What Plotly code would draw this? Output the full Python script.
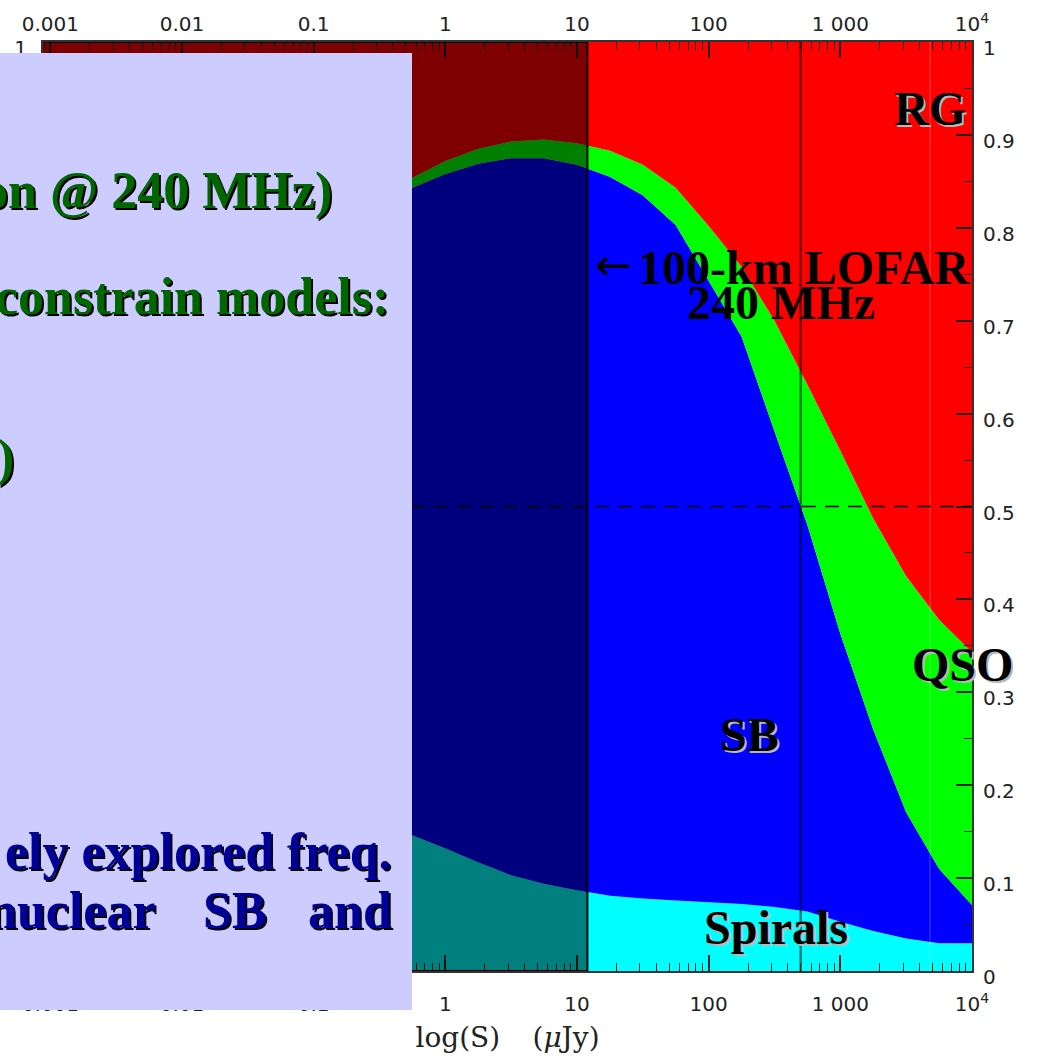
import math
import plotly.graph_objects as go

# Fraction of radio sources per population vs. 240 MHz flux density (muJy)
flux_ujy = [0.0008, 0.001, 0.01, 0.1, 0.316, 0.562, 1.0, 1.778, 3.162, 5.623, 10.0,
            17.78, 31.62, 56.23, 100.0, 177.8, 316.2, 562.3, 1000.0, 1778.0,
            3162.0, 5623.0, 10000.0]
frac_spirals = [0.250, 0.250, 0.210, 0.175, 0.158, 0.146, 0.132, 0.117, 0.103, 0.094, 0.087,
                0.081, 0.078, 0.076, 0.074, 0.072, 0.069, 0.064, 0.053, 0.043,
                0.035, 0.030, 0.030]
frac_starburst = [0.450, 0.450, 0.550, 0.635, 0.674, 0.697, 0.726, 0.752, 0.772, 0.781, 0.781,
                  0.774, 0.757, 0.727, 0.669, 0.611, 0.512, 0.416, 0.310, 0.217,
                  0.136, 0.080, 0.041]
frac_qso = [0.020, 0.020, 0.020, 0.015, 0.011, 0.011, 0.014, 0.016, 0.018, 0.020, 0.023,
            0.028, 0.033, 0.040, 0.059, 0.075, 0.119, 0.151, 0.197, 0.227,
            0.254, 0.268, 0.272]
frac_radio_gal = [0.280, 0.280, 0.220, 0.175, 0.157, 0.146, 0.128, 0.115, 0.107, 0.105, 0.109,
                  0.117, 0.132, 0.157, 0.198, 0.242, 0.300, 0.369, 0.440, 0.513,
                  0.575, 0.622, 0.657]

populations = ["Spirals", "SB", "QSO", "RG"]
pop_colors = ["#00FFFF", "#0000FF", "#00FF00", "#FF0000"]
pop_fracs = [frac_spirals, frac_starburst, frac_qso, frac_radio_gal]

lofar_limit_ujy = 12.0      # 100-km LOFAR detection limit at 240 MHz
sb_half_flux_ujy = 500.0    # flux where starbursts make up half of the sources
half_fraction = 0.5
seam_flux_ujy = 4800.0

x_ticks = [0.001, 0.01, 0.1, 1, 10, 100, 1000, 10000]
x_ticktext = ["0.001", "0.01", "0.1", "1", "10", "100", "1 000", "10<sup>4</sup>"]
x_minor = [m * 10.0 ** e for e in range(-4, 4) for m in range(2, 10)]
x_range_ujy = [0.00088, 10000.0]

# page geometry (pixels)
W, H = 1037, 1060
PL, PR, PT, PB = 43, 972, 42, 971


def px_x(p):
    return (p - PL) / (PR - PL)


def px_y(p):
    return (PB - p) / (PB - PT)


fig = go.Figure()
for name, color, frac in zip(populations, pop_colors, pop_fracs):
    fig.add_trace(go.Scatter(
        x=flux_ujy, y=frac, name=name, stackgroup="frac", mode="lines",
        line=dict(width=0, color=color), fillcolor=color, showlegend=False,
        hoverinfo="skip"))

# carrier for the mirrored (top / right) tick labels
fig.add_trace(go.Scatter(x=flux_ujy, y=frac_radio_gal, xaxis="x2", yaxis="y2",
                         mode="none", showlegend=False, hoverinfo="skip"))

xr = [math.log10(v) for v in x_range_ujy]
tick_font = dict(family="DejaVu Sans", size=20, color="#222222")

fig.update_layout(
    width=W, height=H,
    margin=dict(l=PL, r=W - PR, t=PT, b=H - PB, pad=0, autoexpand=False),
    paper_bgcolor="white", plot_bgcolor="white",
    showlegend=False,
    xaxis=dict(
        type="log", range=xr, showgrid=False, zeroline=False, automargin=False,
        showline=True, linecolor="#333333", linewidth=2, mirror="ticks",
        ticks="inside", ticklen=16, tickwidth=1.5, tickcolor="#222222",
        tickmode="array", tickvals=x_ticks, ticktext=x_ticktext,
        tickfont=tick_font, ticklabelstandoff=14,
        minor=dict(ticks="inside", ticklen=8, tickwidth=1.2, tickcolor="#222222",
                   tickmode="array", tickvals=x_minor),
        title=dict(text="log(S)\u00a0\u00a0\u00a0\u2009(<i>\u03bc</i>Jy)",
                   font=dict(family="DejaVu Serif", size=28, color="#222222"),
                   standoff=12),
    ),
    xaxis2=dict(
        type="log", range=xr, overlaying="x", side="top", anchor="y",
        automargin=False,
        showgrid=False, zeroline=False, showline=False, ticks="",
        tickmode="array", tickvals=x_ticks, ticktext=x_ticktext,
        tickfont=tick_font, ticklabelstandoff=6,
    ),
    yaxis=dict(
        range=[0, 1], showgrid=False, zeroline=False, automargin=False,
        showline=True, linecolor="#333333", linewidth=2, mirror="ticks",
        ticks="inside", ticklen=16, tickwidth=1.5, tickcolor="#222222",
        dtick=0.1, tick0=0, tickfont=tick_font, ticklabelstandoff=10,
        ticklabelshift=6,
        minor=dict(ticks="inside", ticklen=8, tickwidth=1.2, tickcolor="#222222",
                   dtick=0.05),
    ),
    yaxis2=dict(
        range=[0, 1], overlaying="y", side="right", anchor="x", automargin=False,
        showgrid=False, zeroline=False, showline=False, ticks="",
        dtick=0.1, tick0=0, tickfont=tick_font, ticklabelstandoff=10,
        ticklabelshift=6,
    ),
)

# faint seam in the model grid
fig.add_shape(type="line", xref="x", yref="y", x0=seam_flux_ujy, x1=seam_flux_ujy,
              y0=0, y1=1, line=dict(color="rgba(255,255,255,0.18)", width=1.5),
              layer="above")
# region below the 100-km LOFAR limit
fig.add_shape(type="rect", xref="x", yref="y", x0=0.0001, x1=lofar_limit_ujy,
              y0=0, y1=1, fillcolor="rgba(0,0,0,0.5)",
              line=dict(color="black", width=2), layer="above")
# flux where SB fraction reaches one half
fig.add_shape(type="line", xref="x", yref="y", x0=sb_half_flux_ujy, x1=sb_half_flux_ujy,
              y0=0, y1=1, line=dict(color="rgba(0,0,0,0.5)", width=2.5), layer="above")
fig.add_shape(type="line", xref="paper", yref="y", x0=0, x1=1,
              y0=half_fraction, y1=half_fraction,
              line=dict(color="black", width=1.5, dash="14px,9px"), layer="above")

# slide text panel
fig.add_shape(type="rect", xref="paper", yref="paper",
              x0=px_x(-2), x1=px_x(412), y0=px_y(1010), y1=px_y(53),
              fillcolor="#CCCCFF", line=dict(width=0), layer="above")


def label(text, x, y, color, shadow, size=48, xanchor="center", sx=2, sy=2,
          family="Liberation Serif", bold=True):
    layers = [(sx, -sy, shadow), (0, 0, color)] if shadow else [(0, 0, color)]
    body = f"<b>{text}</b>" if bold else text
    for dx, dy, c in layers:
        fig.add_annotation(
            x=px_x(x), y=px_y(y), xref="paper", yref="paper",
            text=body, showarrow=False,
            xanchor=xanchor, yanchor="middle", xshift=dx, yshift=dy,
            font=dict(family=family, size=size, color=c))


GREEN, NAVY = "#006600", "#000099"
label("on @ 240 MHz)", 334, 191, GREEN, "black", size=52, xanchor="right")
label("constrain models:", 391, 296, GREEN, "black", size=52, xanchor="right")
label(")", 16, 458, GREEN, "black", size=52, xanchor="right")
label("ely explored freq.", 394, 851, NAVY, "black", size=52, xanchor="right")
label("nuclear", 158, 910, NAVY, "black", size=52, xanchor="right")
label("SB", 235, 910, NAVY, "black", size=52, xanchor="center")
label("and", 394, 910, NAVY, "black", size=52, xanchor="right")

SHADE = "#b8b8b8"
label("RG", 968, 109, "black", SHADE, xanchor="right")
label("QSO", 962, 664, "black", SHADE)
label("SB", 749, 734, "black", SHADE)
label("Spirals", 776, 927, "black", SHADE)
label("\u2190", 593, 264, "black", None, size=44, xanchor="left",
      family="DejaVu Sans", bold=False)
label("100-km LOFAR", 636, 267, "black", None, xanchor="left")
label("240 MHz", 781, 302, "black", None)

fig.write_html("out.html")
